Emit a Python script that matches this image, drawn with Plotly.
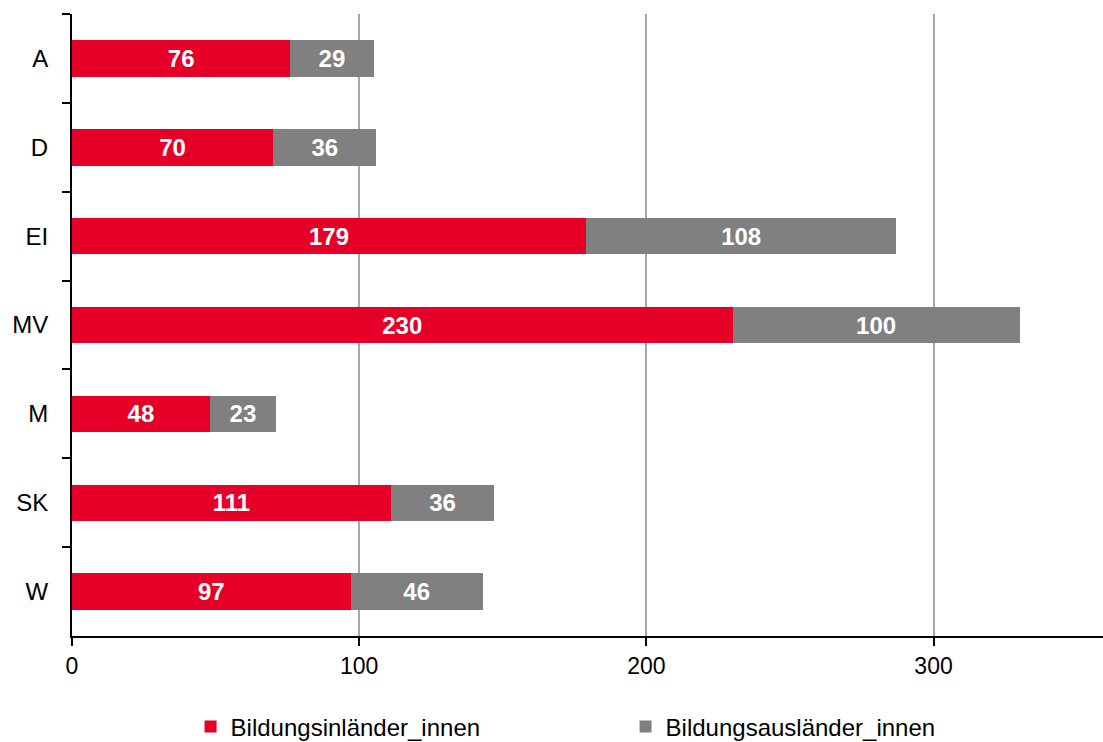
import plotly.graph_objects as go

categories = ["A", "D", "EI", "MV", "M", "SK", "W"]
inlaender = [76, 70, 179, 230, 48, 111, 97]
auslaender = [29, 36, 108, 100, 23, 36, 46]
x_ticks = [0, 100, 200, 300]

RED = "#E60028"
GRAY = "#808080"
FONT = "Arial, Liberation Sans, sans-serif"

fig = go.Figure()
fig.add_trace(go.Bar(
    y=categories, x=inlaender, orientation="h", name="Bildungsinländer_innen",
    marker=dict(color=RED, line=dict(width=0)),
    text=[str(v) for v in inlaender], textposition="inside", insidetextanchor="middle",
    textfont=dict(color="white", size=24, family=FONT, weight="bold"),
    textangle=0,
))
fig.add_trace(go.Bar(
    y=categories, x=auslaender, orientation="h", name="Bildungsausländer_innen",
    marker=dict(color=GRAY, line=dict(width=0)),
    text=[str(v) for v in auslaender], textposition="inside", insidetextanchor="middle",
    textfont=dict(color="white", size=24, family=FONT, weight="bold"),
    textangle=0,
))

fig.update_layout(
    barmode="stack",
    bargap=0.59,
    width=1103, height=742,
    margin=dict(l=72, r=0, t=14, b=106, autoexpand=False),
    plot_bgcolor="white", paper_bgcolor="white",
    font=dict(family=FONT, size=23, color="black"),
    uniformtext=dict(minsize=24, mode="show"),
    legend=dict(orientation="h", x=0.115, xanchor="left", y=-0.11, yanchor="top",
                font=dict(size=24), entrywidth=390, itemwidth=30,
                traceorder="normal"),
    showlegend=True,
)
fig.update_xaxes(
    range=[0, 359], tickvals=x_ticks, showgrid=True, gridcolor="#A6A6A6", gridwidth=1.5,
    showline=True, linecolor="black", linewidth=2, ticks="outside", ticklen=8,
    tickwidth=2, tickcolor="black", zeroline=False, tickfont=dict(size=23),
    automargin=False,
)
fig.update_yaxes(
    autorange="reversed", type="category", tickson="boundaries",
    showline=True, linecolor="black", linewidth=2, ticks="outside", ticklen=8,
    tickwidth=2, tickcolor="black", showgrid=False, tickfont=dict(size=24),
    ticklabelstandoff=17, automargin=False,
)

fig.write_html("out.html", config={"displayModeBar": False},
               post_script="document.body.style.margin='0';document.body.style.overflow='hidden';")
